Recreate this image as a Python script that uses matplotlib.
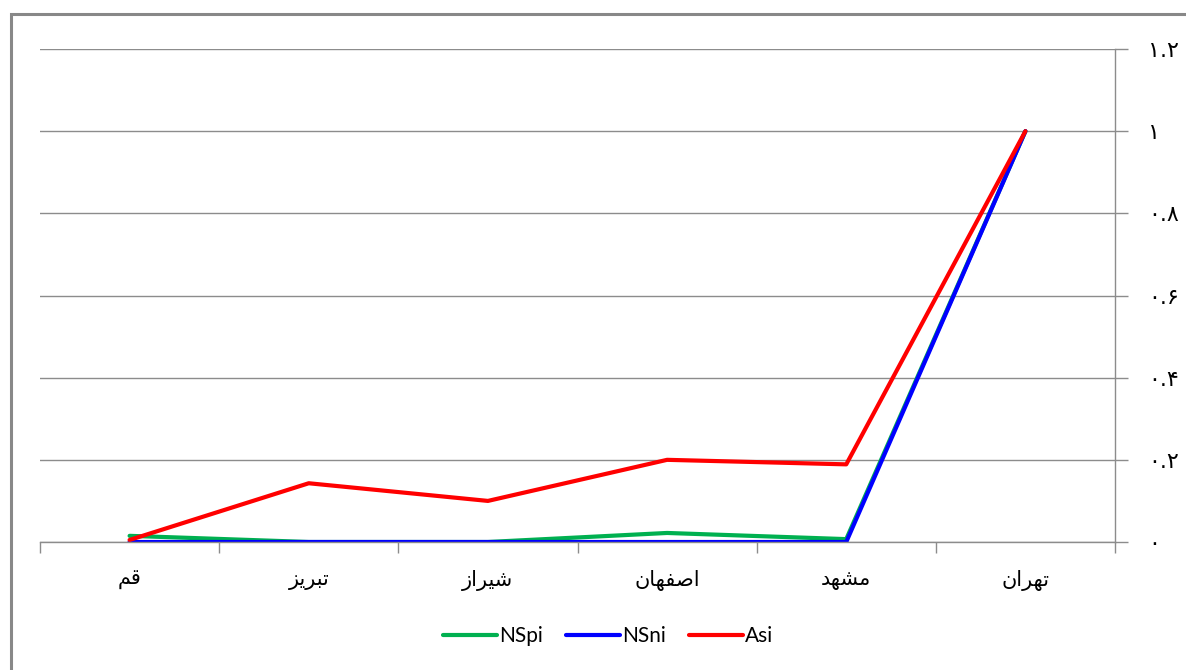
"""
شاخص‌های NSpi، NSni و Asi برای شش شهر
"""
import matplotlib
matplotlib.use('Agg')
import matplotlib.pyplot as plt
from matplotlib.patches import Rectangle

# داده‌ها (از چپ به راست، همان‌طور که در نمودار دیده می‌شود)
cities = ['قم', 'تبریز', 'شیراز', 'اصفهان', 'مشهد', 'تهران']
nspi = [0.015, 0.0, 0.0, 0.022, 0.007, 1.0]
nsni = [0.0, 0.0, 0.0, 0.0, 0.0, 1.0]
asi = [0.005, 0.143, 0.100, 0.200, 0.189, 1.0]
y_ticks = [0, 0.2, 0.4, 0.6, 0.8, 1.0, 1.2]
y_labels = ['۰', '۰.۲', '۰.۴', '۰.۶', '۰.۸', '۱', '۱.۲']

# فرم‌های نمایشی حروف: (تنها، پایانی، آغازی، میانی)
FORMS = {
    'ا': ('\uFE8D', '\uFE8E', None, None),
    'ب': ('\uFE8F', '\uFE90', '\uFE91', '\uFE92'),
    'ت': ('\uFE95', '\uFE96', '\uFE97', '\uFE98'),
    'د': ('\uFEA9', '\uFEAA', None, None),
    'ر': ('\uFEAD', '\uFEAE', None, None),
    'ز': ('\uFEAF', '\uFEB0', None, None),
    'ش': ('\uFEB5', '\uFEB6', '\uFEB7', '\uFEB8'),
    'ص': ('\uFEB9', '\uFEBA', '\uFEBB', '\uFEBC'),
    'ف': ('\uFED1', '\uFED2', '\uFED3', '\uFED4'),
    'ق': ('\uFED5', '\uFED6', '\uFED7', '\uFED8'),
    'م': ('\uFEE1', '\uFEE2', '\uFEE3', '\uFEE4'),
    'ن': ('\uFEE5', '\uFEE6', '\uFEE7', '\uFEE8'),
    'ه': ('\uFEE9', '\uFEEA', '\uFEEB', '\uFEEC'),
    'ی': ('\uFBFC', '\uFBFD', '\uFBFE', '\uFBFF'),
}


def shape(word):
    """اتصال حروف و برگرداندن ترتیب برای نمایش چپ به راست"""
    out = []
    for i, ch in enumerate(word):
        f = FORMS[ch]
        prev = word[i - 1] if i > 0 else None
        nxt = word[i + 1] if i < len(word) - 1 else None
        join_prev = prev is not None and FORMS[prev][2] is not None
        join_next = nxt is not None and f[2] is not None
        if join_prev and join_next:
            out.append(f[3])
        elif join_prev:
            out.append(f[1])
        elif join_next:
            out.append(f[2])
        else:
            out.append(f[0])
    return ''.join(reversed(out))


fig = plt.figure(figsize=(11.86, 6.70), dpi=100)
ax = fig.add_axes([40 / 1186, 1 - 542 / 670, 1075 / 1186, 493 / 670])

# قاب بیرونی
fig.patches.append(Rectangle((11 / 1186, -0.1), 1.2, 0.1 + (670 - 14) / 670,
                             transform=fig.transFigure, fill=False,
                             edgecolor='#888888', linewidth=2.2))

x = list(range(len(cities)))
ax.plot(x, nspi, color='#00B050', lw=3, label='NSpi', solid_capstyle='round')
ax.plot(x, nsni, color='#0000FF', lw=3, label='NSni', solid_capstyle='round')
ax.plot(x, asi, color='#FF0000', lw=3, label='Asi', solid_capstyle='round')

ax.set_xlim(-0.5, len(cities) - 0.5)
ax.set_ylim(0, 1.2)

# محور عمودی در سمت راست
ax.yaxis.tick_right()
ax.set_yticks(y_ticks)
ax.set_yticklabels(y_labels, fontsize=16, family='DejaVu Sans', ha='left')
ax.tick_params(axis='y', direction='out', length=9, width=1, color='#8c8c8c', pad=15)
ax.grid(axis='y', color='#8c8c8c', lw=1)

ax.set_xticks(x)
ax.set_xticklabels([shape(c) for c in cities], fontsize=15, family='DejaVu Sans')
ax.tick_params(axis='x', length=0, pad=20)
ax.set_xticks([i - 0.5 for i in range(len(cities) + 1)], minor=True)
ax.tick_params(axis='x', which='minor', direction='out', length=8, width=1, color='#8c8c8c')

for side in ['top', 'left']:
    ax.spines[side].set_visible(False)
for side in ['right', 'bottom']:
    ax.spines[side].set_color('#8c8c8c')
    ax.spines[side].set_linewidth(1)
ax.set_axisbelow(True)

leg = fig.legend(loc='center', bbox_to_anchor=(608 / 1186, 1 - 636 / 670), ncol=3,
                 frameon=False, prop={'family': 'Lato', 'size': 15},
                 handlelength=2.6, handletextpad=0.1, columnspacing=1.1)

fig.savefig('out.png', dpi=100)
